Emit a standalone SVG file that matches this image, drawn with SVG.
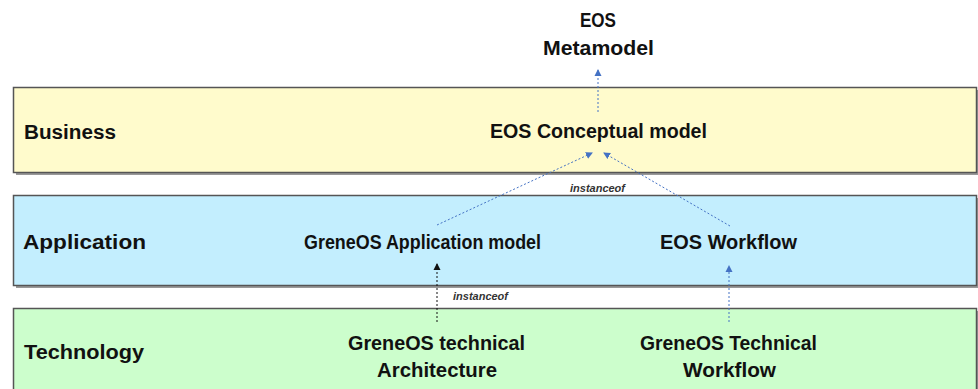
<svg xmlns="http://www.w3.org/2000/svg" width="978" height="389" viewBox="0 0 978 389">
<defs>
<style>
.t{font-family:"Liberation Sans",Arial,sans-serif;font-weight:bold;font-size:20px;fill:#111}
.io{font-family:"Liberation Sans",Arial,sans-serif;font-weight:bold;font-style:italic;font-size:10px;fill:#333}
.band{stroke:#555;stroke-width:1.5}
.sh{fill:#999}
.dl{fill:none;stroke-width:1;stroke-dasharray:2 2}
</style>
<marker id="ab" markerWidth="8" markerHeight="8" refX="6" refY="4" orient="auto" markerUnits="userSpaceOnUse"><path d="M0,0.5 L7,4 L0,7.5 Z" fill="#4472c4"/></marker>
<marker id="ak" markerWidth="8" markerHeight="8" refX="6" refY="4" orient="auto" markerUnits="userSpaceOnUse"><path d="M0,0.5 L7,4 L0,7.5 Z" fill="#111"/></marker>
</defs>
<rect width="978" height="389" fill="#fff"/>
<g id="business">
<rect class="sh" x="16" y="90" width="962" height="85"/>
<rect class="band" x="13.5" y="87.5" width="963" height="85" fill="#fffbcc"/>
<text class="t" x="24" y="139" textLength="92" lengthAdjust="spacingAndGlyphs">Business</text>
</g>
<g id="application">
<rect class="sh" x="16" y="198" width="962" height="90"/>
<rect class="band" x="13.5" y="195.5" width="963" height="90" fill="#c3eefe"/>
<text class="t" x="23" y="249" textLength="123" lengthAdjust="spacingAndGlyphs">Application</text>
</g>
<g id="technology">
<rect class="sh" x="16" y="311" width="962" height="80"/>
<rect class="band" x="13.5" y="308.5" width="963" height="85" fill="#ccfecc"/>
<text class="t" x="24" y="359" textLength="120" lengthAdjust="spacingAndGlyphs">Technology</text>
</g>
<g id="eos-metamodel">
<text class="t" x="580" y="27" textLength="36" lengthAdjust="spacingAndGlyphs">EOS</text>
<text class="t" x="543" y="55" textLength="111" lengthAdjust="spacingAndGlyphs">Metamodel</text>
</g>
<g id="eos-conceptual-model">
<text class="t" x="490" y="138" textLength="217" lengthAdjust="spacingAndGlyphs">EOS Conceptual model</text>
</g>
<g id="greneos-application-model">
<text class="t" x="304" y="249" textLength="237" lengthAdjust="spacingAndGlyphs">GreneOS Application model</text>
</g>
<g id="eos-workflow">
<text class="t" x="660" y="249" textLength="137" lengthAdjust="spacingAndGlyphs">EOS Workflow</text>
</g>
<g id="greneos-technical-architecture">
<text class="t" x="348" y="350" textLength="177" lengthAdjust="spacingAndGlyphs">GreneOS technical</text>
<text class="t" x="377" y="377" textLength="120" lengthAdjust="spacingAndGlyphs">Architecture</text>
</g>
<g id="greneos-technical-workflow">
<text class="t" x="640" y="350" textLength="177" lengthAdjust="spacingAndGlyphs">GreneOS Technical</text>
<text class="t" x="683" y="377" textLength="93" lengthAdjust="spacingAndGlyphs">Workflow</text>
</g>
<g id="connectors">
<line class="dl" x1="598" y1="112" x2="598" y2="70" stroke="#4472c4" marker-end="url(#ab)"/>
<line class="dl" x1="437" y1="225" x2="592" y2="153" stroke="#4472c4" marker-end="url(#ab)"/>
<line class="dl" x1="730" y1="226" x2="604" y2="153" stroke="#4472c4" marker-end="url(#ab)"/>
<line class="dl" x1="437" y1="322" x2="437" y2="264" stroke="#111" marker-end="url(#ak)"/>
<line class="dl" x1="729" y1="322" x2="729" y2="266" stroke="#4472c4" marker-end="url(#ab)"/>
<text class="io" x="570" y="192" textLength="55" lengthAdjust="spacingAndGlyphs">instanceof</text>
<text class="io" x="453" y="300" textLength="55" lengthAdjust="spacingAndGlyphs">instanceof</text>
</g>
</svg>
